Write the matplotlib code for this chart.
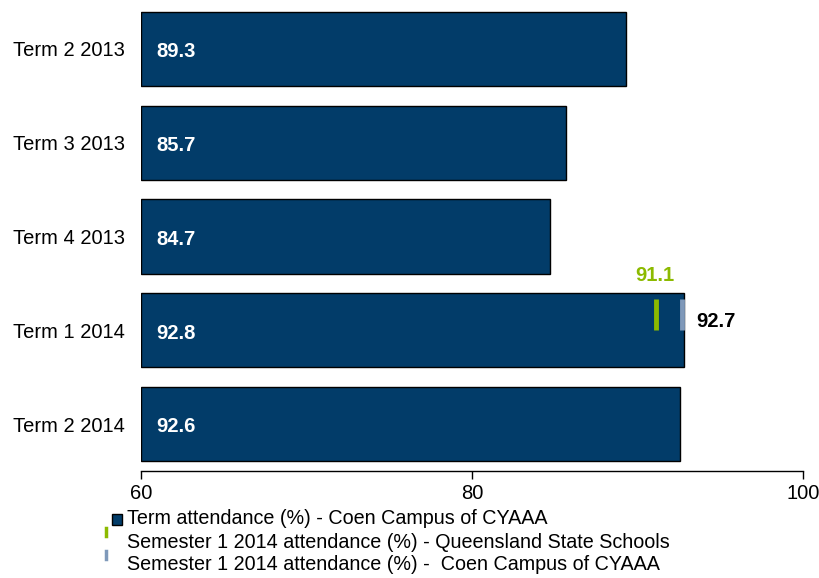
import matplotlib
matplotlib.use("Agg")
import matplotlib.pyplot as plt
from matplotlib.patches import Rectangle
from matplotlib.lines import Line2D

plt.rcParams['font.family'] = ['Liberation Sans', 'DejaVu Sans']

terms = ["Term 2 2013", "Term 3 2013", "Term 4 2013", "Term 1 2014", "Term 2 2014"]
attendance = [89.3, 85.7, 84.7, 92.8, 92.6]
qld_sem1 = 91.1
coen_sem1 = 92.7
sem_row = 3  # row index of Term 1 2014

xticks = [60, 80, 100]
legend_labels = [
    "Term attendance (%) - Coen Campus of CYAAA",
    "Semester 1 2014 attendance (%) - Queensland State Schools",
    "Semester 1 2014 attendance (%) -  Coen Campus of CYAAA",
]

navy = "#023C69"
green = "#8CBA00"
steel = "#7F99BA"
FS = 14.5
LFS = 14.2

fig = plt.figure(figsize=(8.2, 5.78), dpi=100)
ax = fig.add_axes([0.172, 0.185, 0.807, 0.8115])

y = list(range(len(terms)))
ax.barh(y, [a - 60 for a in attendance], left=60, height=0.79,
        color=navy, edgecolor="black", linewidth=1.0)

for yi, val in zip(y, attendance):
    ax.text(60.9, yi + 0.03, f"{val}", color="white", fontsize=FS,
            fontweight="bold", va="center", ha="left")

# semester markers on the Term 1 2014 row
ax.plot([qld_sem1, qld_sem1], [sem_row - 0.33, sem_row], color=green,
        linewidth=3.5, solid_capstyle="butt")
ax.plot([coen_sem1, coen_sem1], [sem_row - 0.33, sem_row], color=steel,
        linewidth=3.5, solid_capstyle="butt")
ax.text(qld_sem1 - 0.05, sem_row - 0.58, f"{qld_sem1}", color=green,
        fontsize=FS, fontweight="bold", ha="center", va="center")
ax.text(coen_sem1 + 0.85, sem_row - 0.09, f"{coen_sem1}", color="black",
        fontsize=FS, fontweight="bold", ha="left", va="center")

ax.set_xlim(60, 100)
ax.set_ylim(len(terms) - 0.5, -0.5)
ax.set_xticks(xticks)
ax.set_xticklabels([str(t) for t in xticks], fontsize=FS)
ax.set_yticks(y)
ax.set_yticklabels(terms, fontsize=FS)
ax.tick_params(axis="y", length=0, pad=11.5)
ax.tick_params(axis="x", length=6, width=1, pad=3, direction="out")
for side in ("top", "right", "left"):
    ax.spines[side].set_visible(False)
ax.spines["bottom"].set_linewidth(1)

# legend drawn in figure pixel coordinates
W, H = 820, 578
def fx(px):
    return px / W
def fy(py):
    return 1 - py / H

rows_y = [519, 542, 565]
fig.patches.append(Rectangle((fx(112), fy(525)), 10 / W, 11 / H,
                             transform=fig.transFigure, facecolor=navy,
                             edgecolor="black", linewidth=1))
fig.lines.append(Line2D([fx(106.5), fx(106.5)], [fy(536), fy(528)],
                        transform=fig.transFigure, color=green, linewidth=2.5))
fig.lines.append(Line2D([fx(106.5), fx(106.5)], [fy(559), fy(551)],
                        transform=fig.transFigure, color=steel, linewidth=2.5))
for ry, lab in zip(rows_y, legend_labels):
    fig.text(fx(127), fy(ry), lab, fontsize=LFS, ha="left", va="center")

fig.savefig("out.png", dpi=100)
